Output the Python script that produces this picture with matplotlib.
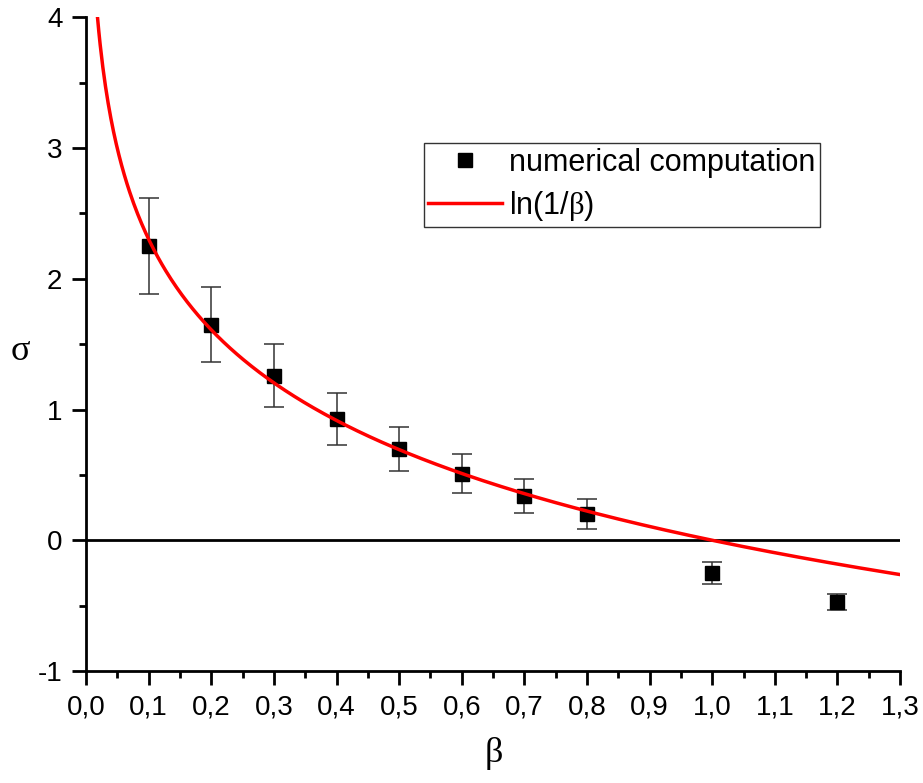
import numpy as np
import matplotlib
matplotlib.use("Agg")
import matplotlib.pyplot as plt
from matplotlib.ticker import MultipleLocator, FuncFormatter
from matplotlib.lines import Line2D

plt.rcParams['font.family'] = ['Liberation Sans', 'DejaVu Sans']
plt.rcParams['mathtext.fontset'] = 'custom'
plt.rcParams['mathtext.rm'] = 'Liberation Serif'

# data
beta_pts = [0.1, 0.2, 0.3, 0.4, 0.5, 0.6, 0.7, 0.8, 1.0, 1.2]
sigma_pts = [2.25, 1.65, 1.26, 0.93, 0.70, 0.51, 0.34, 0.20, -0.25, -0.47]
sigma_err = [0.37, 0.29, 0.24, 0.20, 0.17, 0.15, 0.13, 0.115, 0.085, 0.06]
beta_curve_range = (0.0183, 1.3)

fig = plt.figure(figsize=(9.23, 7.83), dpi=100)
ax = fig.add_axes([0.0932, 0.143, 0.882, 0.835])

bc = np.linspace(beta_curve_range[0], beta_curve_range[1], 600)
ax.axhline(0, color='black', lw=2, zorder=1)
ax.plot(bc, np.log(1 / bc), color='#ff0000', lw=2.5, zorder=3)
ax.errorbar(beta_pts, sigma_pts, yerr=sigma_err, fmt='s', color='black', ms=10,
            ecolor='#333333', elinewidth=1.1, capsize=7, capthick=1.1, zorder=2)

ax.set_xlim(0, 1.3)
ax.set_ylim(-1, 4)
for s in ['top', 'right']:
    ax.spines[s].set_visible(False)
for s in ['left', 'bottom']:
    ax.spines[s].set_linewidth(2)

ax.xaxis.set_major_locator(MultipleLocator(0.1))
ax.xaxis.set_minor_locator(MultipleLocator(0.05))
ax.yaxis.set_major_locator(MultipleLocator(1))
ax.yaxis.set_minor_locator(MultipleLocator(0.5))
ax.xaxis.set_major_formatter(FuncFormatter(lambda v, p: f"{v:.1f}".replace('.', ',')))
ax.yaxis.set_major_formatter(FuncFormatter(lambda v, p: f"{v:.0f}"))
ax.tick_params(which='major', direction='out', length=10, width=2, labelsize=20, pad=7)
ax.tick_params(which='minor', direction='out', length=5, width=2)

ax.set_xlabel(r'$\mathrm{\beta}$', fontsize=26, labelpad=10)
ax.set_ylabel(r'$\mathrm{\sigma}$', fontsize=26, rotation=0, va='center', ha='center')
ax.yaxis.set_label_coords(-0.081, 0.49)

handles = [Line2D([], [], ls='none', marker='s', color='black', ms=10),
           Line2D([], [], color='#ff0000', lw=2.5)]
labels = ['numerical computation', r'ln(1/$\mathrm{\beta}$)']
leg = ax.legend(handles, labels, loc='upper left', bbox_to_anchor=(0.415, 0.807),
                fontsize=22, frameon=True, fancybox=False, edgecolor='black',
                handlelength=2.4, borderpad=0.15, labelspacing=0.35, handletextpad=0.25,
                borderaxespad=0, handleheight=0.7)
leg.get_frame().set_linewidth(1)

fig.savefig('out.png', dpi=100)
